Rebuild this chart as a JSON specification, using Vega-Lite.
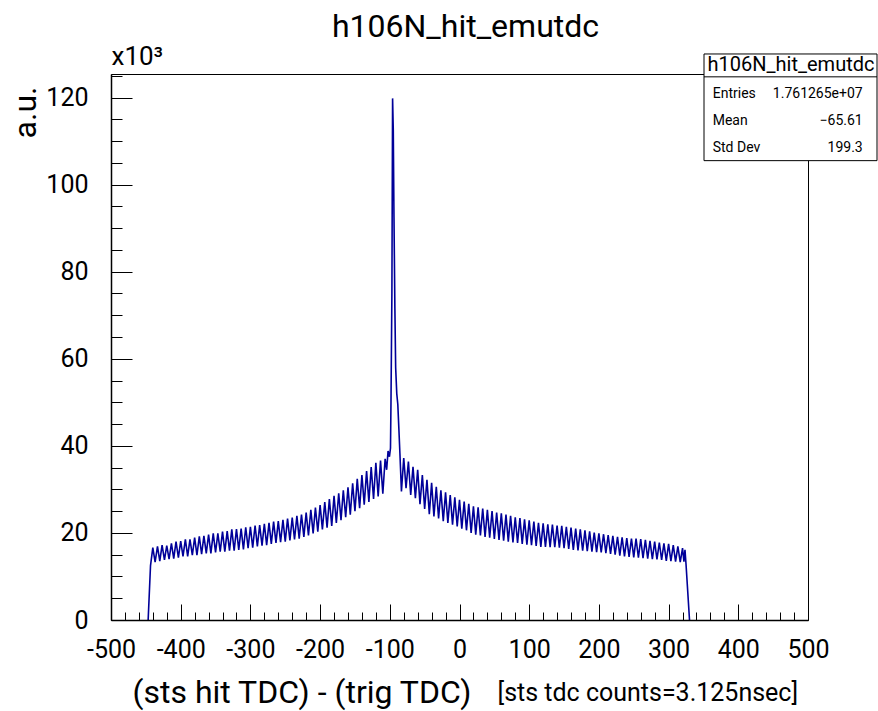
{
"$schema": "https://vega.github.io/schema/vega-lite/v6.json",
"width": 697,
"height": 546,
"autosize": {"type": "none"},
"padding": {"left": 111, "top": 74, "right": 70, "bottom": 91},
"background": "white",
"title": {"text": "h106N_hit_emutdc", "font": "Roboto", "fontSize": 32, "fontWeight": "normal", "color": "black", "anchor": "middle", "baseline": "alphabetic", "frame": "group", "offset": 6, "dy": 32, "dx": 6},
"config": {"view": {"stroke": "black", "strokeWidth": 1}, "font": "Roboto"},
"datasets": {
"hist": [
{"tdc":-446.7,"counts":0},{"tdc":-443.3,"counts":12500},{"tdc":-440,"counts":16600},{"tdc":-436.7,"counts":13300},{"tdc":-433.3,"counts":16900},{"tdc":-430,"counts":13500},{"tdc":-426.7,"counts":17200},{"tdc":-423.3,"counts":13800},{"tdc":-420,"counts":17100},{"tdc":-416.7,"counts":14000},{"tdc":-413.3,"counts":17600},{"tdc":-410,"counts":14100},{"tdc":-406.7,"counts":18000},{"tdc":-403.3,"counts":14300},{"tdc":-400,"counts":18100},{"tdc":-396.7,"counts":14600},{"tdc":-393.3,"counts":18500},{"tdc":-390,"counts":14600},{"tdc":-386.7,"counts":18500},{"tdc":-383.3,"counts":14900},{"tdc":-380,"counts":18900},{"tdc":-376.7,"counts":14900},{"tdc":-373.3,"counts":19200},{"tdc":-370,"counts":15100},{"tdc":-366.7,"counts":19300},{"tdc":-363.3,"counts":15300},{"tdc":-360,"counts":19600},{"tdc":-356.7,"counts":15300},{"tdc":-353.3,"counts":19900},{"tdc":-350,"counts":15500},{"tdc":-346.7,"counts":19900},{"tdc":-343.3,"counts":15700},{"tdc":-340,"counts":20300},{"tdc":-336.7,"counts":15700},{"tdc":-333.3,"counts":20400},{"tdc":-330,"counts":15900},{"tdc":-326.7,"counts":20800},{"tdc":-323.3,"counts":15900},{"tdc":-320,"counts":20900},{"tdc":-316.7,"counts":16100},{"tdc":-313.3,"counts":21000},{"tdc":-310,"counts":16200},{"tdc":-306.7,"counts":21300},{"tdc":-303.3,"counts":16500},{"tdc":-300,"counts":21400},{"tdc":-296.7,"counts":16600},{"tdc":-293.3,"counts":21700},{"tdc":-290,"counts":16900},{"tdc":-286.7,"counts":21800},{"tdc":-283.3,"counts":17100},{"tdc":-280,"counts":22100},{"tdc":-276.7,"counts":17200},{"tdc":-273.3,"counts":22300},{"tdc":-270,"counts":17500},{"tdc":-266.7,"counts":22600},{"tdc":-263.3,"counts":17700},{"tdc":-260,"counts":22700},{"tdc":-256.7,"counts":17900},{"tdc":-253.3,"counts":23000},{"tdc":-250,"counts":18000},{"tdc":-246.7,"counts":23300},{"tdc":-243.3,"counts":18300},{"tdc":-240,"counts":23500},{"tdc":-236.7,"counts":18500},{"tdc":-233.3,"counts":23900},{"tdc":-230,"counts":18700},{"tdc":-226.7,"counts":24200},{"tdc":-223.3,"counts":19100},{"tdc":-220,"counts":24700},{"tdc":-216.7,"counts":19400},{"tdc":-213.3,"counts":25300},{"tdc":-210,"counts":19900},{"tdc":-206.7,"counts":25800},{"tdc":-203.3,"counts":20300},{"tdc":-200,"counts":26400},{"tdc":-196.7,"counts":20800},{"tdc":-193.3,"counts":27100},{"tdc":-190,"counts":21200},{"tdc":-186.7,"counts":27800},{"tdc":-183.3,"counts":21600},{"tdc":-180,"counts":28500},{"tdc":-176.7,"counts":22300},{"tdc":-173.3,"counts":29100},{"tdc":-170,"counts":22900},{"tdc":-166.7,"counts":29800},{"tdc":-163.3,"counts":23600},{"tdc":-160,"counts":30500},{"tdc":-156.7,"counts":24200},{"tdc":-153.3,"counts":31400},{"tdc":-150,"counts":25000},{"tdc":-146.7,"counts":32400},{"tdc":-143.3,"counts":25700},{"tdc":-140,"counts":33300},{"tdc":-136.7,"counts":26500},{"tdc":-133.3,"counts":34200},{"tdc":-130,"counts":27100},{"tdc":-126.7,"counts":35100},{"tdc":-123.3,"counts":27800},{"tdc":-120,"counts":36100},{"tdc":-116.7,"counts":28400},{"tdc":-113.3,"counts":36600},{"tdc":-110,"counts":29000},{"tdc":-106.7,"counts":37000},{"tdc":-104.5,"counts":34500},{"tdc":-102.5,"counts":38800},{"tdc":-100.5,"counts":37500},{"tdc":-99,"counts":39500},{"tdc":-98.3,"counts":50000},{"tdc":-97,"counts":75000},{"tdc":-96,"counts":119800},{"tdc":-95,"counts":112500},{"tdc":-94,"counts":92500},{"tdc":-92.7,"counts":71500},{"tdc":-91.6,"counts":58000},{"tdc":-90,"counts":52000},{"tdc":-88.5,"counts":49500},{"tdc":-87,"counts":44000},{"tdc":-85.5,"counts":38300},{"tdc":-83.3,"counts":29500},{"tdc":-80,"counts":37200},{"tdc":-76.7,"counts":30300},{"tdc":-73.3,"counts":36400},{"tdc":-70,"counts":28700},{"tdc":-66.7,"counts":35200},{"tdc":-63.3,"counts":28000},{"tdc":-60,"counts":34500},{"tdc":-56.7,"counts":26600},{"tdc":-53.3,"counts":33300},{"tdc":-50,"counts":25500},{"tdc":-46.7,"counts":32200},{"tdc":-43.3,"counts":24300},{"tdc":-40,"counts":31500},{"tdc":-36.7,"counts":23800},{"tdc":-33.3,"counts":30600},{"tdc":-30,"counts":23300},{"tdc":-26.7,"counts":29800},{"tdc":-23.3,"counts":22700},{"tdc":-20,"counts":29300},{"tdc":-16.7,"counts":22300},{"tdc":-13.3,"counts":28700},{"tdc":-10,"counts":21900},{"tdc":-6.7,"counts":28200},{"tdc":-3.3,"counts":21500},{"tdc":0,"counts":27600},{"tdc":3.3,"counts":21000},{"tdc":6.7,"counts":27200},{"tdc":10,"counts":20600},{"tdc":13.3,"counts":26700},{"tdc":16.7,"counts":20000},{"tdc":20,"counts":26100},{"tdc":23.3,"counts":19600},{"tdc":26.7,"counts":25900},{"tdc":30,"counts":19400},{"tdc":33.3,"counts":25600},{"tdc":36.7,"counts":19100},{"tdc":40,"counts":25300},{"tdc":43.3,"counts":18900},{"tdc":46.7,"counts":25000},{"tdc":50,"counts":18600},{"tdc":53.3,"counts":24700},{"tdc":56.7,"counts":18400},{"tdc":60,"counts":24500},{"tdc":63.3,"counts":18200},{"tdc":66.7,"counts":24200},{"tdc":70,"counts":18000},{"tdc":73.3,"counts":23900},{"tdc":76.7,"counts":17800},{"tdc":80,"counts":23600},{"tdc":83.3,"counts":17700},{"tdc":86.7,"counts":23400},{"tdc":90,"counts":17500},{"tdc":93.3,"counts":23100},{"tdc":96.7,"counts":17300},{"tdc":100,"counts":22900},{"tdc":103.3,"counts":17200},{"tdc":106.7,"counts":22600},{"tdc":110,"counts":17000},{"tdc":113.3,"counts":22300},{"tdc":116.7,"counts":16800},{"tdc":120,"counts":22200},{"tdc":123.3,"counts":16800},{"tdc":126.7,"counts":22000},{"tdc":130,"counts":16700},{"tdc":133.3,"counts":21900},{"tdc":136.7,"counts":16700},{"tdc":140,"counts":21700},{"tdc":143.3,"counts":16600},{"tdc":146.7,"counts":21600},{"tdc":150,"counts":16500},{"tdc":153.3,"counts":21400},{"tdc":156.7,"counts":16300},{"tdc":160,"counts":21200},{"tdc":163.3,"counts":16100},{"tdc":166.7,"counts":21000},{"tdc":170,"counts":16000},{"tdc":173.3,"counts":20800},{"tdc":176.7,"counts":15900},{"tdc":180,"counts":20600},{"tdc":183.3,"counts":15800},{"tdc":186.7,"counts":20350},{"tdc":190,"counts":15700},{"tdc":193.3,"counts":20100},{"tdc":196.7,"counts":15600},{"tdc":200,"counts":19900},{"tdc":203.3,"counts":15500},{"tdc":206.7,"counts":19700},{"tdc":210,"counts":15350},{"tdc":213.3,"counts":19500},{"tdc":216.7,"counts":15200},{"tdc":220,"counts":19300},{"tdc":223.3,"counts":15000},{"tdc":226.7,"counts":19100},{"tdc":230,"counts":14800},{"tdc":233.3,"counts":19000},{"tdc":236.7,"counts":14600},{"tdc":240,"counts":18800},{"tdc":243.3,"counts":14500},{"tdc":246.7,"counts":18700},{"tdc":250,"counts":14400},{"tdc":253.3,"counts":18700},{"tdc":256.7,"counts":14300},{"tdc":260,"counts":18600},{"tdc":263.3,"counts":14200},{"tdc":266.7,"counts":18400},{"tdc":270,"counts":14100},{"tdc":273.3,"counts":18200},{"tdc":276.7,"counts":14000},{"tdc":280,"counts":18000},{"tdc":283.3,"counts":13900},{"tdc":286.7,"counts":17800},{"tdc":290,"counts":13800},{"tdc":293.3,"counts":17600},{"tdc":296.7,"counts":13600},{"tdc":300,"counts":17500},{"tdc":303.3,"counts":13500},{"tdc":306.7,"counts":17200},{"tdc":310,"counts":13400},{"tdc":313.3,"counts":16900},{"tdc":316.7,"counts":13300},{"tdc":320,"counts":16500},{"tdc":322,"counts":13400},{"tdc":323.5,"counts":16100},{"tdc":325,"counts":12800},{"tdc":330,"counts":0}
],
"stats": [
{"stat":"Entries","value":"1.761265e+07"},
{"stat":"Mean","value":"−65.61"},
{"stat":"Std Dev","value":"199.3"}
]
},
"layer": [
{
"data": {"name": "hist"},
"mark": {"type": "line", "color": "#000099", "strokeWidth": 1.6},
"encoding": {
"x": {"field": "tdc", "type": "quantitative", "scale": {"domain": [-500, 500], "nice": false, "zero": false},
"axis": {"orient": "bottom", "values": [-500,-400,-300,-200,-100,0,100,200,300,400,500], "tickSize": -16, "tickColor": "black", "tickWidth": 1, "domainColor": "black", "domainWidth": 1.5, "grid": false, "zindex": 1,
"labelFont": "Roboto", "labelFontSize": 25, "labelColor": "black", "labelPadding": 33, "labelFlush": false, "labelOverlap": false,
"labelExpr": "datum.value < 0 ? '-' + abs(datum.value) : '' + datum.value",
"title": "(sts hit TDC) - (trig TDC)", "titleFont": "Roboto", "titleFontSize": 32, "titleFontWeight": "normal", "titleColor": "black", "titleAlign": "left", "titleAnchor": "start", "titleBaseline": "alphabetic", "titleX": 21, "titleY": 82}},
"y": {"field": "counts", "type": "quantitative", "scale": {"domain": [0, 125400], "nice": false, "zero": false},
"axis": {"orient": "left", "values": [0,20000,40000,60000,80000,100000,120000], "tickSize": -21, "tickColor": "black", "tickWidth": 1, "domainColor": "black", "domainWidth": 1.5, "grid": false, "zindex": 1,
"labelFont": "Roboto", "labelFontSize": 25, "labelColor": "black", "labelPadding": 44, "labelOverlap": false, "labelFlush": false,
"labelExpr": "'' + datum.value / 1000",
"title": "a.u.", "titleFont": "Roboto", "titleFontSize": 32, "titleFontWeight": "normal", "titleColor": "black", "titleAngle": 270, "titleAlign": "right", "titleBaseline": "alphabetic", "titleX": -76, "titleY": 12}}
}
},
{
"data": {"name": "hist"},
"mark": {"type": "point", "opacity": 0},
"encoding": {
"x": {"field": "tdc", "type": "quantitative", "scale": {"domain": [-500, 500], "nice": false, "zero": false},
"axis": {"orient": "bottom", "values": [-480,-460,-440,-420,-380,-360,-340,-320,-280,-260,-240,-220,-180,-160,-140,-120,-80,-60,-40,-20,20,40,60,80,120,140,160,180,220,240,260,280,320,340,360,380,420,440,460,480], "tickSize": -8, "tickColor": "black", "tickWidth": 1, "domain": false, "labels": false, "grid": false, "zindex": 1,
"title": "[sts tdc counts=3.125nsec]", "titleFont": "Roboto", "titleFontSize": 25, "titleFontWeight": "normal", "titleColor": "black", "titleAlign": "left", "titleAnchor": "start", "titleBaseline": "alphabetic", "titleX": 386, "titleY": 80}},
"y": {"field": "counts", "type": "quantitative", "scale": {"domain": [0, 125400], "nice": false, "zero": false},
"axis": {"orient": "left", "values": [5000,10000,15000,25000,30000,35000,45000,50000,55000,65000,70000,75000,85000,90000,95000,105000,110000,115000,125000], "tickSize": -11, "tickColor": "black", "tickWidth": 1, "domain": false, "labels": false, "grid": false, "zindex": 1,
"title": "x10³", "titleFont": "Roboto", "titleFontSize": 26, "titleFontWeight": "normal", "titleColor": "black", "titleAngle": 0, "titleAlign": "left", "titleBaseline": "alphabetic", "titleX": 0, "titleY": -10}}
}
},
{
"data": {"values": [{}]},
"mark": {"type": "rect", "fill": "white", "stroke": "black", "strokeWidth": 1},
"encoding": {
"x": {"datum": 350.8, "type": "quantitative", "scale": {"domain": [-500, 500], "nice": false, "zero": false}, "axis": null},
"x2": {"datum": 599},
"y": {"datum": 130000, "type": "quantitative", "scale": {"domain": [0, 125400], "nice": false, "zero": false}, "axis": null},
"y2": {"datum": 105500}
}
},
{
"data": {"values": [{}]},
"mark": {"type": "rule", "color": "black", "strokeWidth": 1},
"encoding": {
"x": {"datum": 350.8, "type": "quantitative", "scale": {"domain": [-500, 500], "nice": false, "zero": false}, "axis": null},
"x2": {"datum": 599},
"y": {"datum": 124750, "type": "quantitative", "scale": {"domain": [0, 125400], "nice": false, "zero": false}, "axis": null}
}
},
{
"data": {"values": [{}]},
"mark": {"type": "text", "text": "h106N_hit_emutdc", "font": "Roboto", "fontSize": 20, "align": "center", "baseline": "alphabetic", "color": "black"},
"encoding": {
"x": {"datum": 475.6, "type": "quantitative", "scale": {"domain": [-500, 500], "nice": false, "zero": false}, "axis": null},
"y": {"datum": 126100, "type": "quantitative", "scale": {"domain": [0, 125400], "nice": false, "zero": false}, "axis": null}
}
},
{
"data": {"name": "stats"},
"transform": [{"filter": "datum.stat === 'Entries'"}],
"mark": {"type": "text", "font": "Roboto", "fontSize": 14, "align": "left", "baseline": "alphabetic", "color": "black"},
"encoding": {
"text": {"field": "stat"},
"x": {"datum": 363.3, "type": "quantitative", "scale": {"domain": [-500, 500], "nice": false, "zero": false}, "axis": null},
"y": {"datum": 120000, "type": "quantitative", "scale": {"domain": [0, 125400], "nice": false, "zero": false}, "axis": null}
}
},
{
"data": {"name": "stats"},
"transform": [{"filter": "datum.stat === 'Entries'"}],
"mark": {"type": "text", "font": "Roboto", "fontSize": 14, "align": "right", "baseline": "alphabetic", "color": "black"},
"encoding": {
"text": {"field": "value"},
"x": {"datum": 578.5, "type": "quantitative", "scale": {"domain": [-500, 500], "nice": false, "zero": false}, "axis": null},
"y": {"datum": 120000, "type": "quantitative", "scale": {"domain": [0, 125400], "nice": false, "zero": false}, "axis": null}
}
},
{
"data": {"name": "stats"},
"transform": [{"filter": "datum.stat === 'Mean'"}],
"mark": {"type": "text", "font": "Roboto", "fontSize": 14, "align": "left", "baseline": "alphabetic", "color": "black"},
"encoding": {
"text": {"field": "stat"},
"x": {"datum": 363.3, "type": "quantitative", "scale": {"domain": [-500, 500], "nice": false, "zero": false}, "axis": null},
"y": {"datum": 113700, "type": "quantitative", "scale": {"domain": [0, 125400], "nice": false, "zero": false}, "axis": null}
}
},
{
"data": {"name": "stats"},
"transform": [{"filter": "datum.stat === 'Mean'"}],
"mark": {"type": "text", "font": "Roboto", "fontSize": 14, "align": "right", "baseline": "alphabetic", "color": "black"},
"encoding": {
"text": {"field": "value"},
"x": {"datum": 578.5, "type": "quantitative", "scale": {"domain": [-500, 500], "nice": false, "zero": false}, "axis": null},
"y": {"datum": 113700, "type": "quantitative", "scale": {"domain": [0, 125400], "nice": false, "zero": false}, "axis": null}
}
},
{
"data": {"name": "stats"},
"transform": [{"filter": "datum.stat === 'Std Dev'"}],
"mark": {"type": "text", "font": "Roboto", "fontSize": 14, "align": "left", "baseline": "alphabetic", "color": "black"},
"encoding": {
"text": {"field": "stat"},
"x": {"datum": 363.3, "type": "quantitative", "scale": {"domain": [-500, 500], "nice": false, "zero": false}, "axis": null},
"y": {"datum": 107500, "type": "quantitative", "scale": {"domain": [0, 125400], "nice": false, "zero": false}, "axis": null}
}
},
{
"data": {"name": "stats"},
"transform": [{"filter": "datum.stat === 'Std Dev'"}],
"mark": {"type": "text", "font": "Roboto", "fontSize": 14, "align": "right", "baseline": "alphabetic", "color": "black"},
"encoding": {
"text": {"field": "value"},
"x": {"datum": 578.5, "type": "quantitative", "scale": {"domain": [-500, 500], "nice": false, "zero": false}, "axis": null},
"y": {"datum": 107500, "type": "quantitative", "scale": {"domain": [0, 125400], "nice": false, "zero": false}, "axis": null}
}
}
],
"resolve": {"axis": {"x": "independent", "y": "independent"}}
}
